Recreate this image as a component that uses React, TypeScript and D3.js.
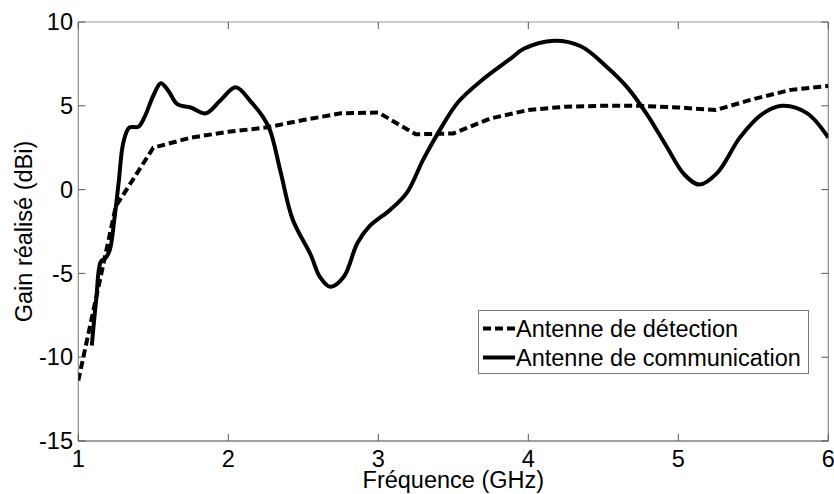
import React from "react";
import * as d3 from "d3";

const W = 834;
const H = 494;

// Antenne de détection (dashed)
const detFreq = [1.0, 1.25, 1.5, 1.75, 2.0, 2.25, 2.5, 2.75, 3.0, 3.25, 3.5, 3.75, 4.0, 4.25, 4.5, 4.75, 5.0, 5.25, 5.5, 5.75, 6.0];
const detGain = [-11.4, -1.0, 2.5, 3.1, 3.45, 3.7, 4.15, 4.55, 4.6, 3.3, 3.35, 4.25, 4.75, 4.95, 5.0, 5.0, 4.9, 4.75, 5.4, 5.95, 6.18];

// Antenne de communication (solid)
const comFreq = [1.09, 1.12, 1.15, 1.18, 1.21, 1.24, 1.27, 1.3, 1.34, 1.4, 1.44, 1.5, 1.55, 1.6, 1.66, 1.75, 1.85, 1.95, 2.05, 2.15, 2.23, 2.28, 2.35, 2.43, 2.55, 2.61, 2.68, 2.77, 2.86, 2.94, 3.08, 3.19, 3.3, 3.4, 3.53, 3.7, 3.88, 3.97, 4.17, 4.35, 4.52, 4.66, 4.79, 4.92, 5.04, 5.14, 5.26, 5.41, 5.55, 5.69, 5.86, 6.0];
const comGain = [-9.3, -6.5, -4.3, -4.1, -3.6, -1.8, 0.5, 2.8, 3.7, 3.75, 4.3, 5.6, 6.35, 5.9, 5.1, 4.9, 4.55, 5.35, 6.1, 5.25, 4.35, 3.5, 1.0, -1.8, -3.9, -5.2, -5.8, -5.2, -3.2, -2.2, -1.2, -0.2, 1.8, 3.4, 5.2, 6.6, 7.8, 8.4, 8.88, 8.55, 7.35, 6.1, 4.5, 2.6, 0.9, 0.3, 1.0, 3.1, 4.45, 5.0, 4.55, 3.1];

const xTicks = [1, 2, 3, 4, 5, 6];
const yTicks = [-15, -10, -5, 0, 5, 10];
const legendLabels = ["Antenne de détection", "Antenne de communication"];
const xLabel = "Fréquence (GHz)";
const yLabel = "Gain réalisé (dBi)";

export default function App() {
  React.useEffect(() => {
    document.body.style.margin = "0";
  }, []);

  const left = 78.3, right = 828.3, top = 22, bottom = 441;
  const x = d3.scaleLinear().domain([1, 6]).range([left, right]);
  const y = d3.scaleLinear().domain([-15, 10]).range([bottom, top]);

  const detData: [number, number][] = detFreq.map((f, i) => [f, detGain[i]]);
  const comData: [number, number][] = comFreq.map((f, i) => [f, comGain[i]]);

  const detLine = d3.line<[number, number]>().x(d => x(d[0])).y(d => y(d[1]));
  const comLine = d3.line<[number, number]>().x(d => x(d[0])).y(d => y(d[1])).curve(d3.curveCatmullRom.alpha(0.5));

  const font = "Arial, 'Liberation Sans', sans-serif";
  const fs = 23.5;
  const tickLen = 7;

  const lg = { x: 478.5, y: 310.5, w: 330, h: 63 };

  return (
    <svg width={W} height={H} style={{ display: "block" }} fontFamily={font}>
      <rect x={0} y={0} width={W} height={H} fill="#fff" />
      <defs>
        <clipPath id="plotclip">
          <rect x={left} y={top} width={right - left} height={bottom - top} />
        </clipPath>
      </defs>
      {/* axes box */}
      <line x1={left} x2={left} y1={top} y2={bottom} stroke="#8c8c8c" strokeWidth={1.2} />
      <line x1={right} x2={right} y1={top} y2={bottom} stroke="#8c8c8c" strokeWidth={1.2} />
      <line x1={left} x2={right} y1={top} y2={top} stroke="#9a9a9a" strokeWidth={1.2} />
      <line x1={left} x2={right} y1={bottom} y2={bottom} stroke="#404040" strokeWidth={1} />
      {/* x ticks */}
      {xTicks.map(t => (
        <g key={"xt" + t}>
          <line x1={x(t)} x2={x(t)} y1={bottom} y2={bottom - tickLen} stroke="#555" />
          <line x1={x(t)} x2={x(t)} y1={top} y2={top + tickLen} stroke="#555" />
          <text x={x(t)} y={467} textAnchor="middle" fontSize={fs} fill="#000">{t}</text>
        </g>
      ))}
      {/* y ticks */}
      {yTicks.map(t => (
        <g key={"yt" + t}>
          <line x1={left} x2={left + tickLen} y1={y(t)} y2={y(t)} stroke="#555" />
          <line x1={right} x2={right - tickLen} y1={y(t)} y2={y(t)} stroke="#555" />
          <text x={73} y={y(t)} dy="0.35em" textAnchor="end" fontSize={fs} fill="#000">{t}</text>
        </g>
      ))}
      {/* axis labels */}
      <text x={(left + right) / 2} y={488} textAnchor="middle" fontSize={fs} fill="#000">{xLabel}</text>
      <text transform={`translate(32, ${(top + bottom) / 2}) rotate(-90)`} textAnchor="middle" fontSize={fs} fill="#000">{yLabel}</text>
      {/* series */}
      <g clipPath="url(#plotclip)">
        <path d={detLine(detData) || ""} fill="none" stroke="#000" strokeWidth={4} strokeDasharray="8,4" />
        <path d={comLine(comData) || ""} fill="none" stroke="#000" strokeWidth={4} strokeLinejoin="round" />
      </g>
      {/* legend */}
      <rect x={lg.x} y={lg.y} width={lg.w} height={lg.h} fill="#fff" stroke="#777" strokeWidth={1} />
      <line x1={483} x2={515} y1={328.5} y2={328.5} stroke="#000" strokeWidth={4} strokeDasharray="8,4" />
      <text x={516} y={328.5} dy="0.35em" fontSize={fs} fill="#000">{legendLabels[0]}</text>
      <line x1={483} x2={515} y1={357.5} y2={357.5} stroke="#000" strokeWidth={4} />
      <text x={516} y={357.5} dy="0.35em" fontSize={fs} fill="#000">{legendLabels[1]}</text>
    </svg>
  );
}
